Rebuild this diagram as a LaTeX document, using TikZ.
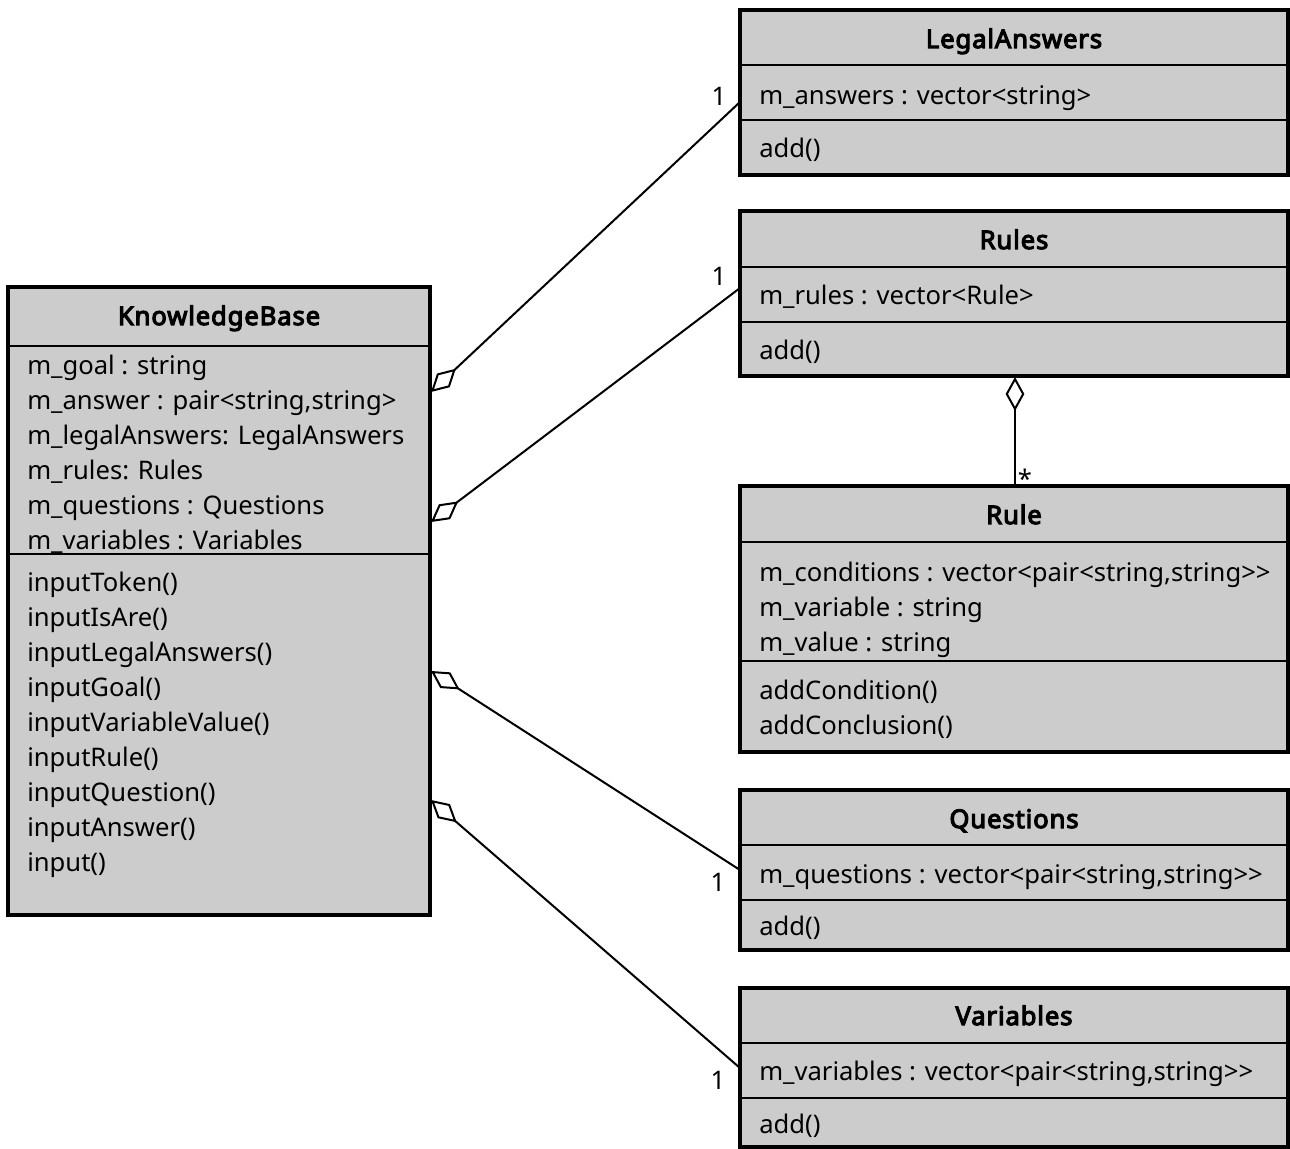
\documentclass[tikz,border=0pt]{standalone}
\usepackage{fontspec}
\setmainfont{Noto Sans}[BoldFont={Noto Sans}, BoldFeatures={FakeBold=4.5, LetterSpace=3.5}]
\usetikzlibrary{arrows.meta,fit}

\definecolor{classfill}{RGB}{204,204,204}

\tikzset{
  classbox/.style={draw=black, fill=classfill, line width=2.4pt, inner sep=0pt},
  divider/.style={line width=1.6pt},
  title/.style={anchor=base, inner sep=0pt, font=\fontsize{19.2pt}{23pt}\selectfont\bfseries},
  member/.style={anchor=base west, inner sep=0pt, font=\fontsize{19.2pt}{23pt}\selectfont},
  mult/.style={anchor=base, inner sep=0pt, font=\fontsize{19.2pt}{23pt}\selectfont},
  aggregation/.style={line width=1.5pt,
    {Diamond[open, length=25.5pt, width=14pt, line width=1.5pt]}-},
}
% two '>' in a row, kept apart so they stay two characters
\newcommand{\gtgt}{>\kern0pt>}

\begin{document}
\begin{tikzpicture}[x=0.75pt, y=-0.75pt]
\useasboundingbox (0,0) rectangle (1290,1149);

% ---------------- KnowledgeBase ----------------
\node[classbox, fit={(8,287) (430,915)}] (kb) {};
\draw[divider] (8,346) -- (430,346);
\draw[divider] (8,554) -- (430,554);
\node[title] (kbT) at (219,325) {KnowledgeBase};
\node[member] (kbA1) at (27,374) {m\_goal : string};
\node[member] (kbA2) at (27,409) {m\_answer : pair<string,string>};
\node[member] (kbA3) at (27,444) {m\_legalAnswers: LegalAnswers};
\node[member] (kbA4) at (27,479) {m\_rules: Rules};
\node[member] (kbA5) at (27,514) {m\_questions : Questions};
\node[member] (kbA6) at (27,549) {m\_variables : Variables};
\node[member] (kbM1) at (27,591) {inputToken()};
\node[member] (kbM2) at (27,626) {inputIsAre()};
\node[member] (kbM3) at (27,661) {inputLegalAnswers()};
\node[member] (kbM4) at (27,696) {inputGoal()};
\node[member] (kbM5) at (27,731) {inputVariableValue()};
\node[member] (kbM6) at (27,766) {inputRule()};
\node[member] (kbM7) at (27,801) {inputQuestion()};
\node[member] (kbM8) at (27,836) {inputAnswer()};
\node[member] (kbM9) at (27,871) {input()};

% ---------------- LegalAnswers ----------------
\node[classbox, fit={(740,10) (1288,175)}] (la) {};
\draw[divider] (740,65) -- (1288,65);
\draw[divider] (740,120) -- (1288,120);
\node[title] (laT) at (1014,48) {LegalAnswers};
\node[member] (laA) at (759,104) {m\_answers : vector<string>};
\node[member] (laM) at (759,157) {add()};

% ---------------- Rules ----------------
\node[classbox, fit={(740,211) (1288,376)}] (rs) {};
\draw[divider] (740,267) -- (1288,267);
\draw[divider] (740,322) -- (1288,322);
\node[title] (rsT) at (1014,249) {Rules};
\node[member] (rsA) at (759,304) {m\_rules : vector<Rule>};
\node[member] (rsM) at (759,359) {add()};

% ---------------- Rule ----------------
\node[classbox, fit={(740,486) (1288,752)}] (r) {};
\draw[divider] (740,542) -- (1288,542);
\draw[divider] (740,661) -- (1288,661);
\node[title] (rT) at (1014,524) {Rule};
\node[member] (rA1) at (759,581) {m\_conditions : vector<pair<string,string\gtgt};
\node[member] (rA2) at (759,616) {m\_variable : string};
\node[member] (rA3) at (759,651) {m\_value : string};
\node[member] (rM1) at (759,699) {addCondition()};
\node[member] (rM2) at (759,734) {addConclusion()};

% ---------------- Questions ----------------
\node[classbox, fit={(740,790) (1288,950)}] (qs) {};
\draw[divider] (740,845) -- (1288,845);
\draw[divider] (740,900) -- (1288,900);
\node[title] (qsT) at (1014,828) {Questions};
\node[member] (qsA) at (759,883) {m\_questions : vector<pair<string,string\gtgt};
\node[member] (qsM) at (759,935) {add()};

% ---------------- Variables ----------------
\node[classbox, fit={(740,988) (1288,1147)}] (vs) {};
\draw[divider] (740,1043) -- (1288,1043);
\draw[divider] (740,1098) -- (1288,1098);
\node[title] (vsT) at (1014,1025) {Variables};
\node[member] (vsA) at (759,1080) {m\_variables : vector<pair<string,string\gtgt};
\node[member] (vsM) at (759,1133) {add()};

% ---------------- aggregation connectors ----------------
\coordinate (kbLA) at (431,392);
\coordinate (kbRS) at (431,522);
\coordinate (kbQS) at (431,671);
\coordinate (kbVS) at (431,800);
\coordinate (laEnd) at (740,102);
\coordinate (rsEnd) at (740,288);
\coordinate (qsEnd) at (740,870);
\coordinate (vsEnd) at (740,1068);
\coordinate (rsBot) at (1015,377);
\coordinate (rTop) at (1015,486);

\draw[aggregation] (kbLA) -- (laEnd);
\draw[aggregation] (kbRS) -- (rsEnd);
\draw[aggregation] (kbQS) -- (qsEnd);
\draw[aggregation] (kbVS) -- (vsEnd);
\draw[aggregation] (rsBot) -- (rTop);

% ---------------- multiplicities ----------------
\node[mult] (m1) at (719,106) {1};
\node[mult] (m2) at (719,285) {1};
\node[mult] (m3) at (718,891) {1};
\node[mult] (m4) at (718,1089) {1};
\node[mult] (m5) at (1025,488) {*};
\end{tikzpicture}
\end{document}
